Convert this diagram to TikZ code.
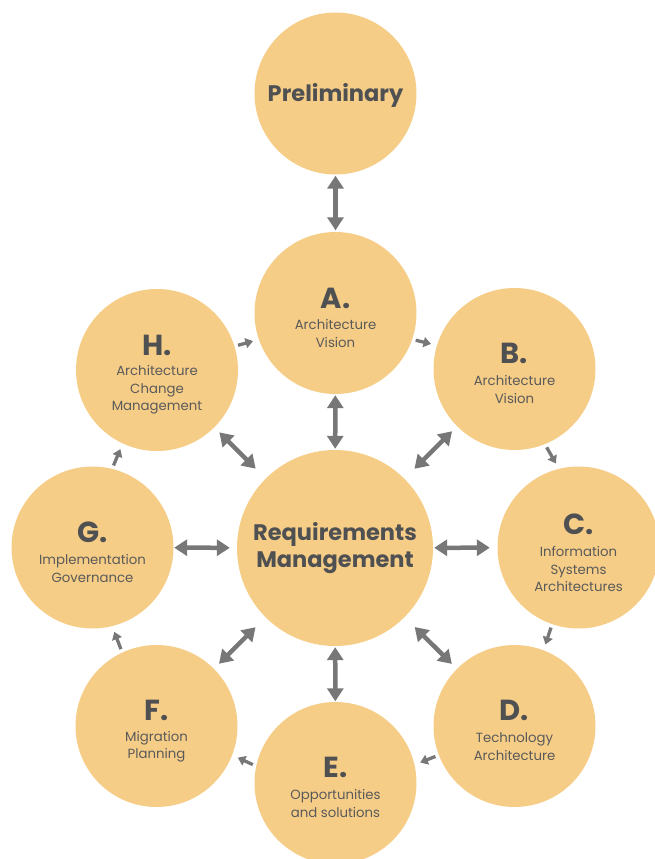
\documentclass[tikz,border=0pt]{standalone}
\usepackage{fontspec}
\setmainfont{Poppins}
\usetikzlibrary{arrows.meta}
\definecolor{circfill}{HTML}{F6CD87}
\definecolor{arrgray}{HTML}{777777}
\definecolor{titlegray}{HTML}{4F5052}
\definecolor{subgray}{HTML}{5A5A5A}
\begin{document}
\begin{tikzpicture}[x=1pt,y=-1pt,
  phase/.style={circle,fill=circfill,draw=none,minimum size=162pt,inner sep=0pt},
  bigphase/.style={circle,fill=circfill,draw=none,minimum size=196pt,inner sep=0pt},
  lettr/.style={text=titlegray,font=\fontsize{29}{30}\selectfont\bfseries,inner sep=0pt},
  subtxt/.style={text=subgray,font=\fontsize{13.3}{17.5}\selectfont,align=center,inner sep=0pt},
  bigtxt/.style={text=titlegray,font=\fontsize{22.5}{27}\selectfont\bfseries,align=center,inner sep=0pt},
  dbl/.style={arrgray,line width=4.5pt,{Triangle[width=16pt,length=13pt]}-{Triangle[width=16pt,length=13pt]}},
  ring/.style={arrgray,line width=3.3pt,-{Triangle[width=10pt,length=7.5pt]},shorten <=3.5pt,shorten >=6pt}]
\useasboundingbox (0,0) rectangle (654,859);
% circles
\node[phase] (P) at (335.5,93.5) {};
\node[phase] (A) at (335.5,313) {};
\node[bigphase] (R) at (335,548) {};
\node[phase] (B) at (514.5,369) {};
\node[phase] (C) at (578.5,547.5) {};
\node[phase] (D) at (514.5,726) {};
\node[phase] (E) at (335.5,783) {};
\node[phase] (F) at (156.5,726) {};
\node[phase] (G) at (92.5,547.5) {};
\node[phase] (H) at (157,370) {};
% texts
\node[bigtxt] (Ptxt) at ([yshift=-2pt]P.center) {Preliminary};
\node[bigtxt] (Rtxt) at (R.center) {Requirements\\Management};
\node[lettr] (Al) at ([yshift=15pt]A.center) {A.};
\node[subtxt] (As) at ([yshift=-20.5pt]A.center) {Architecture\\Vision};
\node[lettr] (Bl) at ([yshift=16pt]B.center) {B.};
\node[subtxt] (Bs) at ([yshift=-20.5pt]B.center) {Architecture\\Vision};
\node[lettr] (Cl) at ([yshift=23pt]C.center) {C.};
\node[subtxt] (Cs) at ([yshift=-21.5pt]C.center) {Information\\Systems\\Architectures};
\node[lettr] (Dl) at ([yshift=15.5pt]D.center) {D.};
\node[subtxt] (Ds) at ([yshift=-20.5pt]D.center) {Technology\\Architecture};
\node[lettr] (El) at ([yshift=15.5pt]E.center) {E.};
\node[subtxt] (Es) at ([yshift=-20.5pt]E.center) {Opportunities\\and solutions};
\node[lettr] (Fl) at ([yshift=15.5pt]F.center) {F.};
\node[subtxt] (Fs) at ([yshift=-20.5pt]F.center) {Migration\\Planning};
\node[lettr] (Gl) at ([yshift=15.5pt]G.center) {G.};
\node[subtxt] (Gs) at ([yshift=-21pt]G.center) {Implementation\\Governance};
\node[lettr] (Hl) at ([yshift=25pt]H.center) {H.};
\node[subtxt] (Hs) at ([yshift=-20pt]H.center) {Architecture\\Change\\Management};
% double arrows
\draw[dbl,shorten <=1pt,shorten >=1.5pt] (P) -- (A);
\draw[dbl,shorten <=1pt,shorten >=1pt] (R) -- (A);
\draw[dbl,shorten <=14pt,shorten >=7pt] (R) -- (B);
\draw[dbl,shorten <=1pt,shorten >=7.5pt] (R) -- (C);
\draw[dbl,shorten <=14pt,shorten >=7pt] (R) -- (D);
\draw[dbl,shorten <=1pt,shorten >=0.5pt] (R) -- (E);
\draw[dbl,shorten <=14pt,shorten >=7pt] (R) -- (F);
\draw[dbl,shorten <=7pt,shorten >=0.5pt] (R) -- (G);
\draw[dbl,shorten <=14pt,shorten >=7pt] (R) -- (H);
% ring arrows
\draw[ring] (H.17) -- (A.199);
\draw[ring] (A.341) -- (B.163);
\draw[ring] (B.292) -- (C.104);
\draw[ring] (C.251) -- (D.69);
\draw[ring] (D.201) -- (E.13);
\draw[ring] (E.168) -- (F.339);
\draw[ring] (F.115) -- (G.284);
\draw[ring] (G.76) -- (H.245);
\end{tikzpicture}
\end{document}
